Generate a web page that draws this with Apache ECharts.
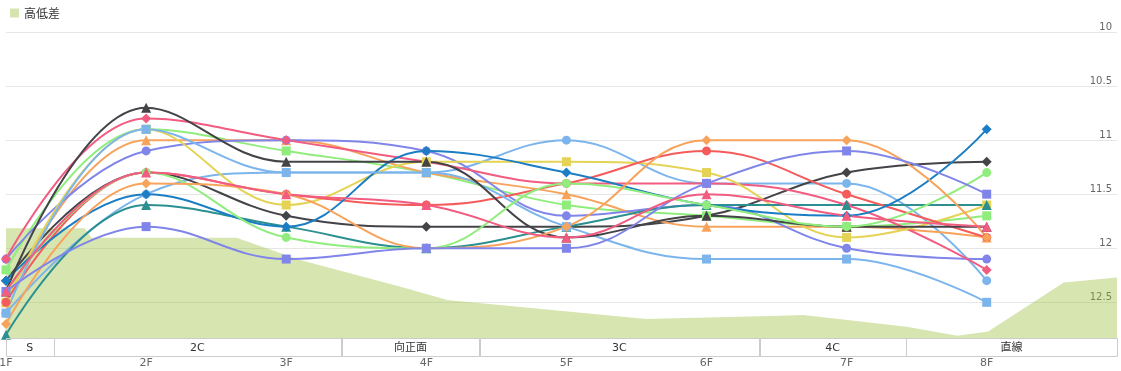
<!DOCTYPE html>
<html><head><meta charset="utf-8">
<script src="https://cdn.jsdelivr.net/npm/echarts@6/dist/echarts.min.js"></script>
<style>html,body{margin:0;padding:0;background:#fff}#c{width:1121px;height:371px}</style>
</head><body><div id="c"></div>
<script>
// ---- data ----
const furlongs = ['1F','2F','3F','4F','5F','6F','7F','8F'];
const yTicks = [10, 10.5, 11, 11.5, 12, 12.5];

const lapA = [12.6, 11.5, 11.3, 11.3, 11.0, 11.4, 11.4, 12.3];
const lapB = [12.3, 11.3, 11.7, 11.8, 11.8, 11.7, 11.3, 11.2];
const lapC = [12.2, 10.9, 11.1, 11.3, 11.6, 11.7, 11.8, 11.7];
const lapD = [12.5, 11.0, 11.0, 11.3, 11.5, 11.8, 11.8, 11.9];
const lapE = [12.1, 11.1, 11.0, 11.1, 11.7, 11.6, 12.0, 12.1];
const lapF = [12.1, 10.8, 11.0, 11.2, 11.4, 11.4, 11.6, 12.2];
const lapG = [12.5, 10.9, 11.6, 11.2, 11.2, 11.3, 11.9, 11.6];
const lapH = [12.8, 11.6, 11.8, 12.0, 11.8, 11.6, 11.6, 11.6];
const lapI = [12.5, 11.3, 11.5, 11.6, 11.4, 11.1, 11.5, 11.9];
const lapJ = [12.3, 11.5, 11.8, 11.1, 11.3, 11.6, 11.7, 10.9];
const lapK = [12.6, 10.9, 11.3, 11.3, 11.8, 12.1, 12.1, 12.5];
const lapL = [12.4, 10.7, 11.2, 11.2, 11.9, 11.7, 11.8, 11.8];
const lapM = [12.4, 11.3, 11.9, 12.0, 11.4, 11.6, 11.8, 11.3];
const lapN = [12.7, 11.4, 11.5, 12.0, 11.8, 11.0, 11.0, 11.9];
const lapO = [12.4, 11.8, 12.1, 12.0, 12.0, 11.4, 11.1, 11.5];
const lapP = [12.4, 11.3, 11.5, 11.6, 11.9, 11.5, 11.7, 11.8];

// elevation profile (position in furlong units from 1F, relative height)
const elevX = [0, 0.56, 0.61, 1.645, 2.1, 2.81, 3.15, 4.57, 5.52, 5.69, 6.43, 6.79, 7.01, 7.55, 7.93];
const elevY = [35.9, 35.9, 32.8, 32.8, 25.5, 16.8, 12.4, 6.2, 7.3, 7.5, 3.7, 0.7, 2.1, 18.1, 19.8];

// course sections
const sectionNames = ['S', '2C', '向正面', '3C', '4C', '直線'];
const sectionBounds = [0, 0.34, 2.393, 3.381, 5.376, 6.424, 7.93];

// ---- styles ----
const X_MAX = 7.93;
const lines = [
  [lapA, '#7cb5ec', 'circle'],
  [lapB, '#434348', 'diamond'],
  [lapC, '#90ed7d', 'rect'],
  [lapD, '#f7a35c', 'triangle'],
  [lapE, '#8085e9', 'circle'],
  [lapF, '#f15c80', 'diamond'],
  [lapG, '#e4d354', 'rect'],
  [lapH, '#2b908f', 'triangle'],
  [lapI, '#f45b5b', 'circle'],
  [lapJ, '#1b7dc4', 'diamond'],
  [lapK, '#7cb5ec', 'rect'],
  [lapL, '#434348', 'triangle'],
  [lapM, '#90ed7d', 'circle'],
  [lapN, '#f7a35c', 'diamond'],
  [lapO, '#8085e9', 'rect'],
  [lapP, '#f15c80', 'triangle']
];

const series = [];
series.push({
  type: 'line', name: '高低差', xAxisIndex: 0, yAxisIndex: 1,
  data: elevX.map((x, i) => [x, elevY[i]]),
  symbol: 'none', lineStyle: { width: 0 },
  itemStyle: { color: '#d6e4b0' },
  areaStyle: { color: 'rgba(155,190,60,0.4)', opacity: 1 },
  z: 1, silent: true
});
lines.forEach((l, k) => {
  series.push({
    type: 'line', name: 'lap' + k, xAxisIndex: 0, yAxisIndex: 0,
    data: l[0].map((v, i) => [i, v]),
    smooth: 0.4, symbol: l[2], symbolSize: l[2] === 'circle' || l[2] === 'rect' ? 9 : 10,
    showSymbol: true,
    lineStyle: { width: 2, color: l[1] },
    itemStyle: { color: l[1] },
    z: 3
  });
});
series.push({
  type: 'custom', xAxisIndex: 1, yAxisIndex: 2, z: 4,
  data: sectionNames.map((n, i) => [sectionBounds[i], sectionBounds[i + 1]]),
  clip: false,
  renderItem: function (params, api) {
    const a = api.coord([api.value(0), 1]);
    const b = api.coord([api.value(1), 0]);
    return {
      type: 'group',
      children: [
        { type: 'rect', shape: { x: Math.round(a[0]) + 0.5, y: Math.round(a[1]) + 0.5, width: Math.round(b[0] - a[0]), height: Math.round(b[1] - a[1]) },
          style: { fill: null, stroke: '#cccccc', lineWidth: 1 } },
        { type: 'text', style: { text: sectionNames[params.dataIndex], x: (a[0] + b[0]) / 2, y: (a[1] + b[1]) / 2 + 1,
          align: 'center', verticalAlign: 'middle', fill: '#333', fontSize: 11,
          fontFamily: '"DejaVu Sans","Noto Sans CJK JP",sans-serif' } }
      ]
    };
  }
});

const chart = echarts.init(document.getElementById('c'));
chart.setOption({
  animation: false,
  textStyle: { fontFamily: '"DejaVu Sans","Noto Sans CJK JP",sans-serif' },
  legend: {
    data: [{ name: '高低差', icon: 'rect' }],
    left: 5, top: 2, itemWidth: 9, itemHeight: 9,
    textStyle: { fontSize: 12, color: '#333', fontFamily: '"Noto Sans CJK JP",sans-serif' }
  },
  grid: [
    { left: 6, right: 4, top: 32, height: 306, outerBoundsMode: 'none', containLabel: false },
    { left: 6, right: 4, top: 338, height: 18, outerBoundsMode: 'none', containLabel: false }
  ],
  xAxis: [
    { gridIndex: 0, type: 'value', min: 0, max: X_MAX, interval: 1,
      axisLine: { show: false }, axisTick: { show: false }, splitLine: { show: false },
      axisLabel: { margin: 20, fontSize: 11, color: '#666', showMaxLabel: false,
        formatter: v => (Number.isInteger(v) && furlongs[v]) ? furlongs[v] : '' } },
    { gridIndex: 1, type: 'value', min: 0, max: X_MAX, show: false }
  ],
  yAxis: [
    { gridIndex: 0, type: 'value', position: 'right', inverse: true, min: yTicks[0], max: 12.83, interval: 0.5,
      axisLine: { show: false }, axisTick: { show: false },
      splitLine: { lineStyle: { color: '#e6e6e6', width: 1 } },
      axisLabel: { inside: true, verticalAlign: 'bottom', margin: 5, fontSize: 10, color: '#666',
        showMaxLabel: false, formatter: v => yTicks.indexOf(v) >= 0 ? String(v) : '' } },
    { gridIndex: 0, type: 'value', min: 0, max: 100, show: false },
    { gridIndex: 1, type: 'value', min: 0, max: 1, show: false }
  ],
  series: series
});
</script></body></html>
